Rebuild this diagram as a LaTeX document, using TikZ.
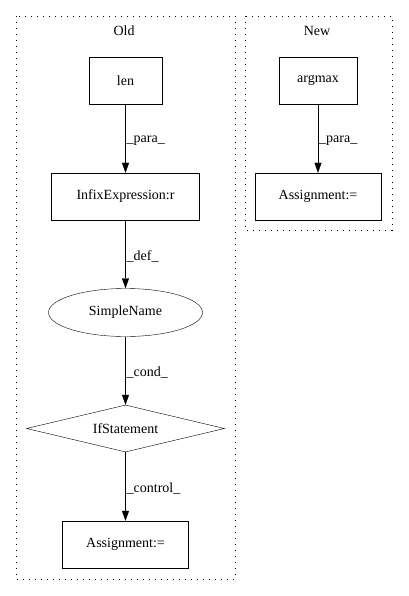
\documentclass[tikz,border=0pt]{standalone}
\usepackage{fontspec}
\setmainfont{Liberation Serif}
\usetikzlibrary{shapes.geometric, positioning, arrows.meta}
\tikzset{->, >={Triangle[length=10pt,width=7pt]}, node distance=116pt, line width=1.2pt,
    font=\fontsize{14}{16}\selectfont,
    box/.style={rectangle, draw, inner sep=0pt, minimum height=47pt},
    lbl/.style={right, inner sep=1pt, pos=0.53},
    cluster/.style={-, dash pattern=on 1.2pt off 4.8pt}}

\begin{document}
\begin{tikzpicture}[x=1pt, y=-1pt]
        \useasboundingbox (0,0) rectangle (408,596);
        \draw[cluster] (16,16) rectangle (235,579);
        \draw[cluster] (245,16) rectangle (392,230);
        \node (old) at (124,31) {Old};
        \node (new) at (317,31) {New};
        \node[box, minimum width=73pt] (len) at (125.5,80.5) {len};
        \node[box, below of=len, minimum width=148pt] (infix) {InfixExpression:r};
        \node[ellipse, draw, below of=infix, inner sep=0pt, minimum width=154pt, minimum height=48pt] (simplename) {SimpleName};
        \node[diamond, draw, below of=simplename, aspect=4.2, inner sep=0pt, minimum width=198pt, minimum height=47pt] (ifstmt) {IfStatement};
        \node[box, below of=ifstmt, minimum width=126pt] (assignold) {Assignment:=};
        \node[box, minimum width=78pt] (argmax) at (318,80.5) {argmax};
        \node[box, below of=argmax, minimum width=126pt] (assignnew) {Assignment:=};
        \draw (len) edge node[lbl]{\_para\_} (infix)
            (infix) edge node[lbl]{\_def\_} (simplename)
            (simplename) edge node[lbl]{\_cond\_} (ifstmt)
            (ifstmt) edge node[lbl]{\_control\_} (assignold)
            (argmax) edge node[lbl]{\_para\_} (assignnew);
    \end{tikzpicture}
\end{document}
